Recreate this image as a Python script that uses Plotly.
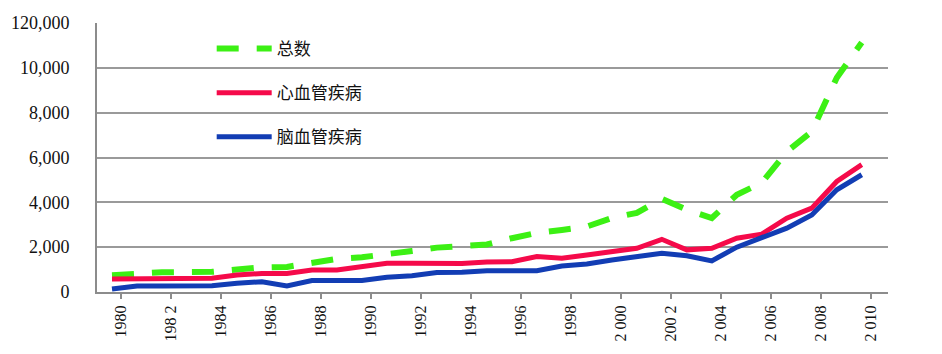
import plotly.graph_objects as go

years = list(range(1980, 2011))
total = [750, 820, 880, 890, 900, 1000, 1100, 1120, 1330, 1480, 1550, 1720, 1830, 1980, 2030, 2120,
         2400, 2640, 2770, 2920, 3300, 3530, 4160, 3670, 3300, 4340, 4870, 6260, 7160, 9560, 11130]
cardio = [580, 580, 580, 590, 610, 760, 830, 830, 980, 980, 1130, 1280, 1280, 1280, 1270, 1340,
          1350, 1580, 1510, 1650, 1800, 1950, 2350, 1880, 1950, 2400, 2580, 3290, 3740, 4930, 5680]
cerebro = [130, 270, 270, 270, 280, 390, 460, 270, 510, 510, 510, 660, 730, 870, 880, 950,
           950, 950, 1160, 1250, 1430, 1580, 1730, 1620, 1390, 2000, 2400, 2850, 3440, 4560, 5230]
names = ["总数", "心血管疾病", "脑血管疾病"]

x_tick_years = list(range(1980, 2011, 2))
x_tick_text = ["1980", "198 2", "1984", "1986", "1988", "1990", "1992", "1994", "1996", "1998",
               "2 000", "200 2", "2 004", "2 006", "2 008", "2 010"]
y_tick_vals = [0, 2000, 4000, 6000, 8000, 10000, 12000]
y_tick_text = ["0", "2,000", "4,000", "6,000", "8,000", "10,000", "120,000"]

fig = go.Figure()
fig.add_trace(go.Scatter(x=years, y=total, mode="lines", name=names[0], legendgroup="a",
                         line=dict(color="#3cf014", width=6, dash="22px,18px")))
fig.add_trace(go.Scatter(x=years, y=cardio, mode="lines", name=names[1], legendgroup="b",
                         line=dict(color="#f50a4a", width=5)))
fig.add_trace(go.Scatter(x=years, y=cerebro, mode="lines", name=names[2], legendgroup="c",
                         line=dict(color="#123db4", width=5)))

tick_offset = 0.35
fig.update_layout(
    width=942, height=354,
    margin=dict(l=97, r=54, t=23, b=62),
    paper_bgcolor="white", plot_bgcolor="white",
    showlegend=True,
    legend=dict(x=0.145, y=0.97, xanchor="left", yanchor="top",
                bgcolor="rgba(0,0,0,0)", tracegroupgap=19, itemwidth=55,
                font=dict(family="Noto Sans CJK SC", size=17, color="#111")),
    xaxis=dict(range=[1979.4, 2011.05], tickvals=[y + tick_offset for y in x_tick_years],
               ticktext=x_tick_text, tickangle=-90, showgrid=False, zeroline=False,
               showline=True, linecolor="#8c8c8c", linewidth=2,
               ticks="outside", ticklen=5, tickcolor="#8c8c8c", tickwidth=1.5,
               tickfont=dict(family="Liberation Serif", size=16, color="#111")),
    yaxis=dict(range=[0, 12000], tickvals=y_tick_vals, ticktext=y_tick_text,
               showgrid=True, gridcolor="#9a9a9a", gridwidth=1.5, zeroline=False,
               showline=True, linecolor="#8c8c8c", linewidth=2,
               ticks="", ticklabelstandoff=22,
               tickfont=dict(family="Liberation Serif", size=18, color="#111")),
)
fig.write_html("out.html")
